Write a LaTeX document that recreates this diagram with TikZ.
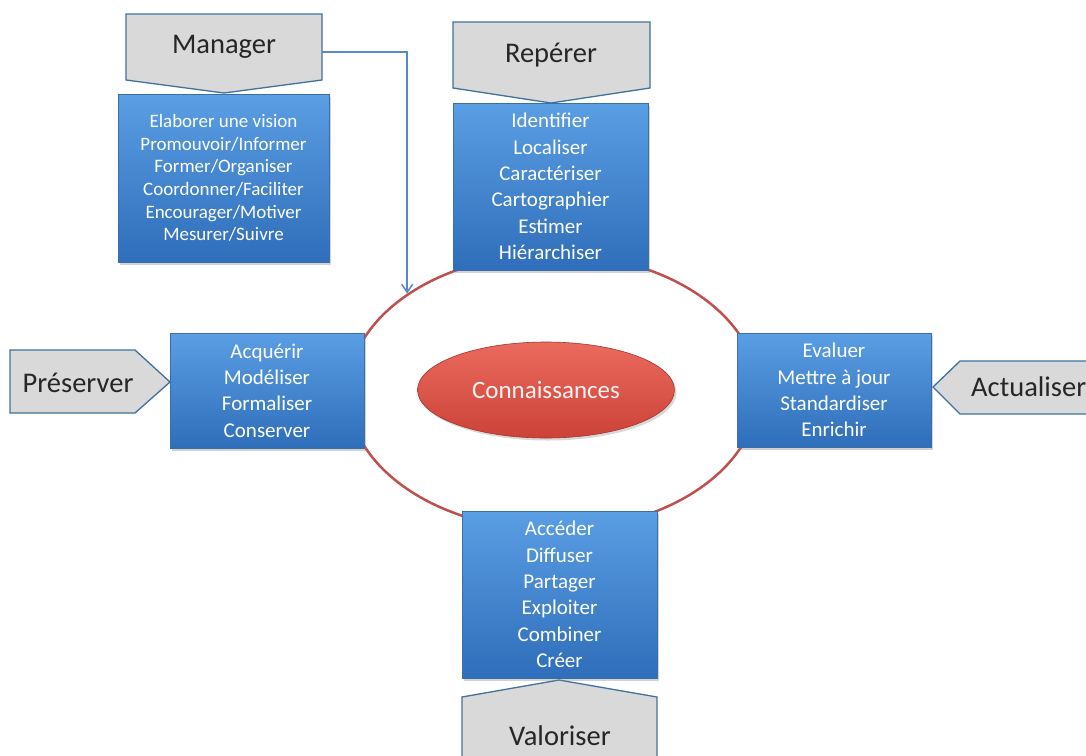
\documentclass[tikz,border=0pt]{standalone}
\usepackage{fontspec}
\setmainfont{Carlito}
\usetikzlibrary{shapes.geometric,arrows.meta,shadows}
\definecolor{boxtop}{HTML}{5A9EE4}
\definecolor{boxbot}{HTML}{2F6EBA}
\definecolor{boxline}{HTML}{3A6FA8}
\definecolor{pentfill}{HTML}{D9D9D9}
\definecolor{pentline}{HTML}{41719C}
\definecolor{ringred}{HTML}{C0504D}
\definecolor{knowtop}{HTML}{EA6A5E}
\definecolor{knowbot}{HTML}{CC4238}
\definecolor{arrblue}{HTML}{5A8AC6}
\begin{document}
\begin{tikzpicture}[x=1pt,y=-1pt,
  bluebox/.style={draw=boxline, line width=0.8pt, top color=boxtop, bottom color=boxbot,
    text=white, align=center, inner sep=0pt,
    drop shadow={shadow xshift=2pt, shadow yshift=-2.5pt, opacity=0.35},
    font=\fontsize{21}{26.3}\selectfont},
  smallbox/.style={bluebox, font=\fontsize{19}{22.6}\selectfont},
  pent/.style={draw=pentline, line width=1.3pt, fill=pentfill},
  pentlabel/.style={inner sep=0pt, text=black!85, font=\fontsize{28.5}{32}\selectfont},
  conn/.style={draw=arrblue, line width=1.5pt, -{Straight Barb[length=8pt,width=11pt]}}]
\clip (0,0) rectangle (1086,755);
\fill[white] (0,0) rectangle (1086,755);

% outer ring
\node[ellipse, draw=ringred, line width=2.5pt, minimum width=410pt, minimum height=276pt] (ring) at (553,392) {};

% central ellipse
\node[ellipse, top color=knowtop, bottom color=knowbot, draw=knowbot!80!black, line width=0.6pt,
  minimum width=257pt, minimum height=96pt, text=white!95!red,
  font=\fontsize{25}{28}\selectfont,
  drop shadow={shadow xshift=2pt, shadow yshift=-2.5pt, opacity=0.3}] (know) at (546,390) {Connaissances};

% pentagons
\draw[pent] (126,14) -- (322,14) -- (322,80) -- (224,93) -- (126,80) -- cycle;
\node[pentlabel, minimum width=196pt, minimum height=66pt] (mgr) at (224,47) {Manager};

\draw[pent] (453,22) -- (650,22) -- (650,88) -- (551,103) -- (453,88) -- cycle;
\node[pentlabel] (rep) at (551,55) {Repérer};

\draw[pent] (10,350) -- (135,350) -- (170,382) -- (135,413) -- (10,413) -- cycle;
\node[pentlabel] (pres) at (78,383) {Préserver};

\draw[pent] (1095,361) -- (960,361) -- (933,387) -- (960,414) -- (1095,414) -- cycle;
\node[pentlabel, anchor=west] (act) at (971,387) {Actualiser};

\draw[pent] (462,697) -- (559,680) -- (657,697) -- (657,765) -- (462,765) -- cycle;
\node[pentlabel] (val) at (560,736) {Valoriser};

% blue boxes
\node[smallbox, minimum width=211pt, minimum height=168pt] (mgrbox) at (223.5,178)
  {Elaborer une vision\\Promouvoir/Informer\\Former/Organiser\\Coordonner/Faciliter\\Encourager/Motiver\\Mesurer/Suivre};
\node[bluebox, minimum width=195pt, minimum height=167pt] (repbox) at (550.5,186.5)
  {Identifier\\Localiser\\Caractériser\\Cartographier\\Estimer\\Hiérarchiser};
\node[bluebox, minimum width=194pt, minimum height=115pt] (presbox) at (267,390.5)
  {Acquérir\\Modéliser\\Formaliser\\Conserver};
\node[bluebox, minimum width=194pt, minimum height=114pt] (actbox) at (834,390)
  {Evaluer\\Mettre à jour\\Standardiser\\Enrichir};
\node[bluebox, minimum width=195pt, minimum height=167pt] (valbox) at (559.5,594.5)
  {Accéder\\Diffuser\\Partager\\Exploiter\\Combiner\\Créer};

% connector
\draw[conn] ([yshift=-5pt]mgr.east) -| (ring.north west);
\end{tikzpicture}
\end{document}
